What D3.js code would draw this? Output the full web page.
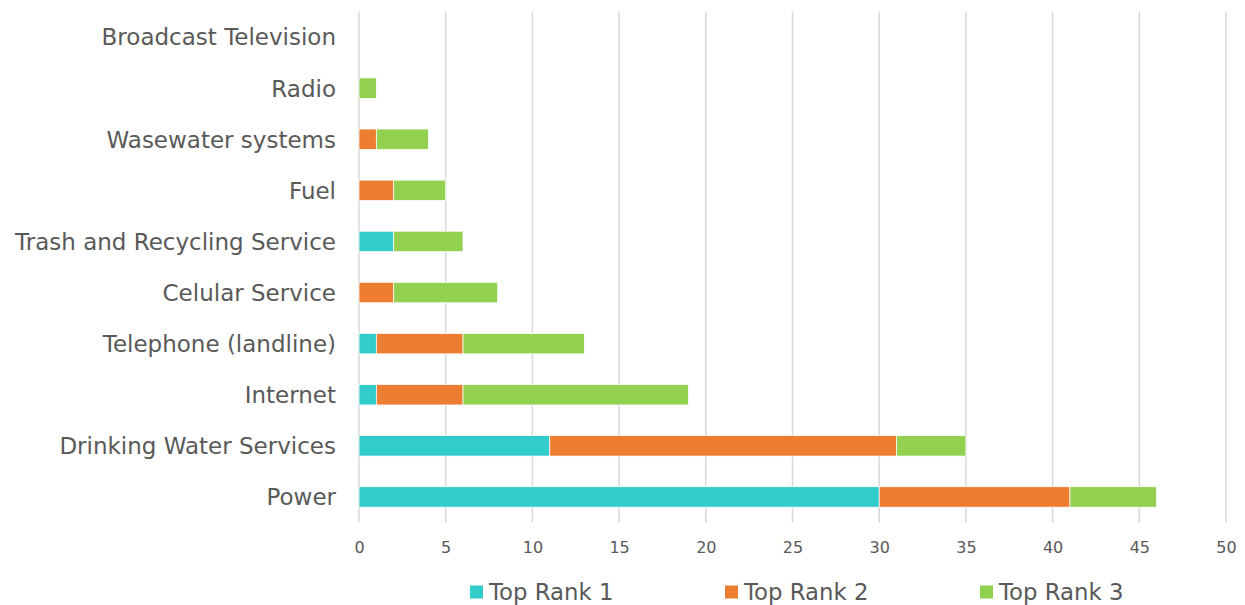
<!DOCTYPE html>
<html><head><meta charset="utf-8">
<script src="https://cdn.jsdelivr.net/npm/d3@7/dist/d3.min.js"></script>
<style>body{margin:0;background:#fff;} svg{display:block;font-family:"DejaVu Sans",sans-serif;}</style>
</head><body>
<script>
const categories = ["Broadcast Television","Radio","Wasewater systems","Fuel","Trash and Recycling Service","Celular Service","Telephone (landline)","Internet","Drinking Water Services","Power"];
const rank1 = [0,0,0,0,2,0,1,1,11,30];
const rank2 = [0,0,1,2,0,2,5,5,20,11];
const rank3 = [0,1,3,3,4,6,7,13,4,5];
const seriesNames = ["Top Rank 1","Top Rank 2","Top Rank 3"];
const colors = ["#33CCCC","#ED7D31","#92D050"];
const xTicks = [0,5,10,15,20,25,30,35,40,45,50];

const W=1245,H=605;
const svg=d3.select("body").append("svg").attr("width",W).attr("height",H);
const x=d3.scaleLinear().domain([0,50]).range([359,1226]);
const y=d3.scaleBand().domain(categories).range([11.5,522.5]).paddingInner(0.6).paddingOuter(0.3);

// gridlines
svg.append("g").selectAll("line").data(xTicks).join("line")
  .attr("x1",d=>x(d)).attr("x2",d=>x(d)).attr("y1",11.5).attr("y2",522.5)
  .attr("stroke","#d9d9d9").attr("stroke-width",1.5);

const table=categories.map((c,i)=>({cat:c,"Top Rank 1":rank1[i],"Top Rank 2":rank2[i],"Top Rank 3":rank3[i]}));
const stacked=d3.stack().keys(seriesNames)(table);
svg.append("g").selectAll("g").data(stacked).join("g").attr("fill",(d,i)=>colors[i])
  .selectAll("rect").data(d=>d.filter(p=>p[1]-p[0]>0)).join("rect")
  .attr("x",d=>x(d[0])).attr("width",d=>x(d[1])-x(d[0]))
  .attr("y",d=>y(d.data.cat)).attr("height",y.bandwidth())
  .attr("stroke","#fff").attr("stroke-width",0.75);

// x tick labels
const xAxis=d3.axisBottom(x).tickValues(xTicks).tickSize(0).tickPadding(0);
const gx=svg.append("g").attr("transform","translate(0,542)").call(xAxis);
gx.select(".domain").remove();
gx.selectAll("text").attr("font-size",16).attr("fill","#595959").attr("font-family","DejaVu Sans").attr("dy","0.71em").attr("y",0);

// y labels
const yAxis=d3.axisLeft(y).tickSize(0).tickPadding(23);
const gy=svg.append("g").attr("transform","translate(359,1)").call(yAxis);
gy.select(".domain").remove();
gy.selectAll("text").attr("font-size",23).attr("fill","#595959").attr("font-family","DejaVu Sans");

// legend
const legX=[470,725,980];
const lg=svg.append("g").selectAll("g").data(seriesNames).join("g")
  .attr("transform",(d,i)=>`translate(${legX[i]},0)`);
lg.append("rect").attr("x",0).attr("y",585.5).attr("width",13).attr("height",13).attr("fill",(d,i)=>colors[i]);
lg.append("text").attr("x",19).attr("y",600).attr("font-size",22.8).attr("fill","#595959").text(d=>d);
</script>
</body></html>
